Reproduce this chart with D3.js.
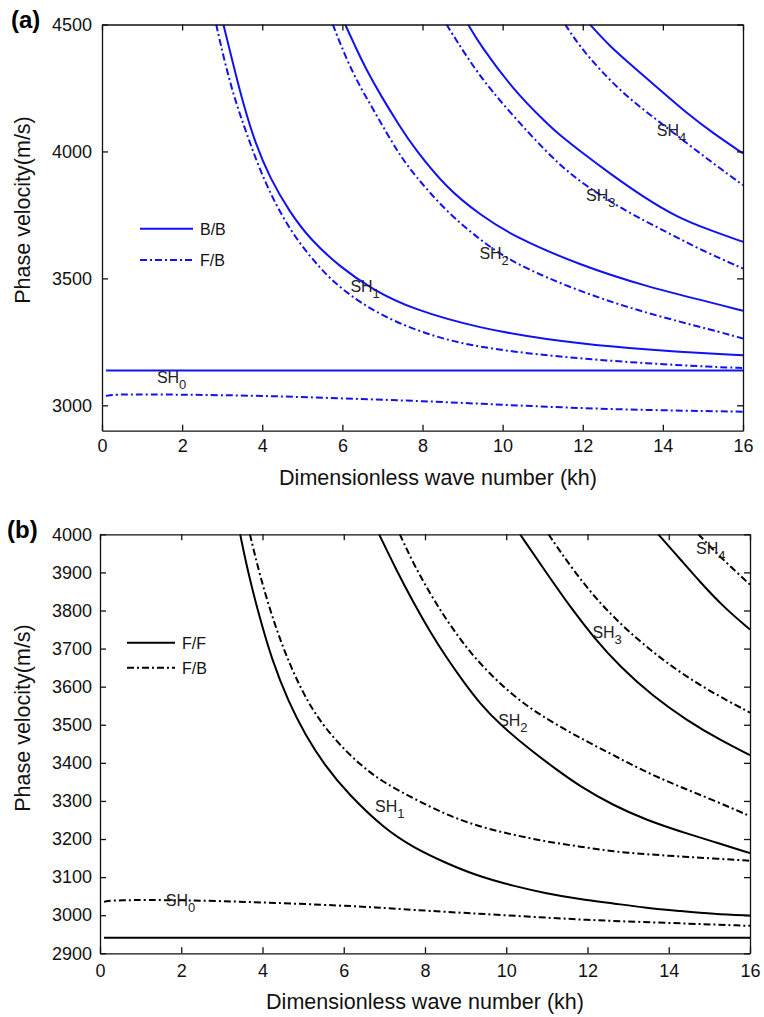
<!DOCTYPE html>
<html lang="en">
<head>
    <meta charset="UTF-8">
    <title>SH dispersion curves</title>
    <script src="https://d3js.org/d3.v7.min.js"></script>
    <style>
        body { margin: 0; background: #fff; }
        svg { display: block; font-family: "Liberation Sans", Arial, sans-serif; }
        .axis text { font-size: 18px; fill: #111; }
        .axis path, .axis line { stroke: #111; stroke-width: 1.3px; }
        .title { font-size: 21.5px; fill: #111; }
        .mode { font-size: 16px; fill: #222; }
        .legend { font-size: 16px; fill: #111; }
        .curve { fill: none; stroke-width: 2px; }
    </style>
</head>
<body>
    <svg width="764" height="1017"></svg>
    <script>
        // panel (a): blue, B/B solid and F/B dash-dot, [kh, velocity]
        const aBB0 = [[0.1, 3137], [16, 3137]];
        const aFB0 = [[0.1, 3037], [0.35, 3044], [2, 3042], [4, 3038], [6, 3027], [8, 3017], [10, 3002], [12, 2988], [14, 2980], [16, 2975]];
        const aBB1 = [[3.03, 4500], [3.28, 4340], [3.53, 4185], [3.82, 4035], [4.19, 3895], [4.69, 3760], [5.19, 3655], [5.94, 3545], [6.76, 3455], [7.77, 3377], [9.44, 3303], [11.1, 3259], [12.76, 3230], [14.43, 3210], [16, 3197]];
        const aFB1 = [[2.85, 4500], [3.07, 4347], [3.32, 4202], [3.61, 4071], [3.94, 3926], [4.36, 3782], [4.86, 3651], [5.44, 3540], [5.94, 3462], [6.94, 3350], [8.6, 3250], [10.27, 3210], [11.93, 3184], [13.6, 3165], [15.26, 3151], [16, 3147]];
        const aBB2 = [[6.07, 4500], [6.36, 4400], [6.6, 4322], [6.94, 4225], [7.44, 4097], [7.77, 4018], [8.6, 3855], [9.44, 3750], [10.27, 3665], [11.93, 3552], [13.6, 3467], [15.26, 3403], [16, 3372]];
        const aFB2 = [[5.76, 4500], [6.11, 4360], [6.44, 4255], [6.78, 4163], [7.11, 4071], [7.44, 3985], [7.77, 3912], [8.6, 3762], [9.44, 3651], [10.27, 3559], [11.93, 3447], [13.6, 3362], [15.26, 3296], [16, 3263]];
        const aBB3 = [[9.14, 4500], [9.44, 4419], [10.27, 4242], [11.1, 4111], [11.43, 4064], [12.01, 3992], [12.68, 3913], [13.51, 3821], [14.34, 3742], [15.17, 3690], [16, 3644]];
        const aFB3 = [[8.6, 4500], [9.1, 4373], [9.69, 4242], [10.69, 4065], [11.43, 3945], [12.1, 3861], [13.1, 3762], [14.1, 3682], [15.0, 3608], [16, 3539]];
        const aBB4 = [[12.18, 4500], [12.68, 4413], [13.26, 4334], [13.93, 4242], [14.6, 4150], [15.26, 4071], [16, 3992]];
        const aFB4 = [[11.56, 4500], [11.93, 4413], [12.43, 4321], [13.1, 4215], [13.85, 4124], [14.6, 4032], [15.26, 3953], [16, 3867]];

        // panel (b): black, F/F solid and F/B dash-dot
        const bFF0 = [[0.1, 2941], [16, 2941]];
        const bFB0 = [[0.1, 3035], [0.3, 3040], [2, 3040], [4, 3034], [6, 3025], [6.89, 3020], [7.96, 3012], [10, 3000], [11.98, 2987], [13.95, 2980], [16, 2972]];
        const bFF1 = [[3.45, 4000], [3.65, 3897], [3.9, 3793], [4.23, 3670], [4.64, 3560], [5.05, 3474], [5.54, 3392], [6.11, 3318], [7.02, 3225], [7.71, 3178], [8.53, 3136], [9.35, 3101], [10.17, 3077], [10.99, 3057], [11.82, 3042], [12.64, 3031], [13.45, 3019], [14.28, 3011], [15.1, 3003], [16, 2999]];
        const bFB1 = [[3.69, 4000], [3.94, 3889], [4.31, 3758], [4.72, 3644], [5.21, 3539], [5.78, 3460], [6.36, 3399], [6.93, 3351], [7.71, 3307], [8.53, 3263], [9.35, 3232], [10.17, 3211], [10.99, 3193], [11.82, 3180], [12.64, 3167], [13.45, 3160], [14.28, 3154], [15.1, 3149], [16, 3143]];
        const bFF2 = [[6.87, 4000], [7.3, 3905], [7.71, 3822], [8.12, 3745], [8.53, 3676], [8.94, 3614], [9.35, 3556], [9.85, 3500], [10.58, 3435], [11.24, 3382], [11.82, 3338], [12.64, 3288], [13.45, 3250], [14.28, 3220], [15.1, 3193], [16, 3163]];
        const bFB2 = [[7.38, 4000], [7.71, 3924], [8.12, 3845], [8.53, 3775], [8.94, 3714], [9.35, 3660], [10.17, 3574], [10.99, 3515], [11.82, 3465], [12.64, 3420], [13.45, 3375], [14.28, 3337], [15.1, 3302], [16, 3260]];
        const bFF3 = [[10.34, 4000], [11.0, 3897], [11.57, 3810], [12.14, 3731], [12.8, 3652], [13.62, 3574], [14.44, 3512], [15.26, 3460], [16, 3420]];
        const bFB3 = [[11.04, 4000], [11.65, 3905], [12.31, 3818], [13.05, 3740], [13.95, 3661], [14.93, 3592], [16, 3532]];
        const bFF4 = [[13.74, 4000], [14.28, 3935], [14.77, 3875], [15.34, 3810], [16, 3750]];
        const bFB4 = [[14.73, 4000], [15.26, 3941], [16, 3868]];

        const xTicks = [0, 2, 4, 6, 8, 10, 12, 14, 16];
        const aYTicks = [3000, 3500, 4000, 4500];
        const bYTicks = [2900, 3000, 3100, 3200, 3300, 3400, 3500, 3600, 3700, 3800, 3900, 4000];

        const aLabels = [["SH", "0", 1.37, 3087], ["SH", "1", 6.2, 3445], ["SH", "2", 9.42, 3577], ["SH", "3", 12.08, 3805], ["SH", "4", 13.85, 4062]];
        const bLabels = [["SH", "0", 1.62, 3024], ["SH", "1", 6.77, 3272], ["SH", "2", 9.8, 3497], ["SH", "3", 12.12, 3728], ["SH", "4", 14.67, 3949]];

        const svg = d3.select("svg");
        const dashDot = "7,3,2,3";

        function panel(opt) {
            const x = d3.scaleLinear().domain([0, 16]).range([opt.left, opt.right]);
            const y = d3.scaleLinear().domain(opt.yDomain).range([opt.bottom, opt.top]);
            const g = svg.append("g");

            g.append("clipPath").attr("id", opt.id)
                .append("rect")
                .attr("x", opt.left).attr("y", opt.top)
                .attr("width", opt.right - opt.left).attr("height", opt.bottom - opt.top);

            const line = d3.line()
                .x(d => x(d[0]))
                .y(d => y(d[1]))
                .curve(d3.curveBasis);

            const curves = g.append("g").attr("clip-path", `url(#${opt.id})`);
            opt.series.forEach(s => {
                curves.append("path")
                    .attr("class", "curve")
                    .attr("d", line(s.data))
                    .attr("stroke", opt.color)
                    .attr("stroke-dasharray", s.dashed ? dashDot : null);
            });

            // axes, ticks pointing inward
            const fmt = d3.format("d");
            g.append("g").attr("class", "axis")
                .attr("transform", `translate(0,${opt.bottom})`)
                .call(d3.axisBottom(x).tickValues(xTicks).tickFormat(fmt).tickSize(-6).tickSizeOuter(0).tickPadding(opt.xPad));
            g.append("g").attr("class", "axis")
                .attr("transform", `translate(0,${opt.top})`)
                .call(d3.axisTop(x).tickValues(xTicks).tickSize(-6).tickSizeOuter(0).tickFormat(""));
            g.append("g").attr("class", "axis")
                .attr("transform", `translate(${opt.left},0)`)
                .call(d3.axisLeft(y).tickValues(opt.yTicks).tickFormat(fmt).tickSize(-6).tickSizeOuter(0).tickPadding(opt.yPad));
            g.append("g").attr("class", "axis")
                .attr("transform", `translate(${opt.right},0)`)
                .call(d3.axisRight(y).tickValues(opt.yTicks).tickSize(-6).tickSizeOuter(0).tickFormat(""));
            g.selectAll(".axis text").attr("font-family", null).attr("font-size", null);

            // mode labels
            opt.labels.forEach(l => {
                const t = g.append("text").attr("class", "mode")
                    .attr("x", x(l[2])).attr("y", y(l[3]));
                t.append("tspan").text(l[0]);
                t.append("tspan").attr("dy", 6).attr("font-size", 13).text(l[1]);
            });

            // legend
            opt.legend.forEach((l, i) => {
                const ly = opt.legendY[i];
                g.append("line")
                    .attr("x1", opt.legendX[0]).attr("x2", opt.legendX[1])
                    .attr("y1", ly).attr("y2", ly)
                    .attr("stroke", opt.color).attr("stroke-width", 2)
                    .attr("stroke-dasharray", l.dashed ? dashDot : null);
                g.append("text").attr("class", "legend")
                    .attr("x", opt.legendX[1] + 7).attr("y", ly + 6)
                    .text(l.name);
            });

            g.append("text").attr("class", "title")
                .attr("x", opt.xTitle[0]).attr("y", opt.xTitle[1])
                .attr("text-anchor", "middle")
                .text("Dimensionless wave number (kh)");
            g.append("text").attr("class", "title")
                .attr("transform", `translate(${opt.yTitle[0]},${opt.yTitle[1]}) rotate(-90)`)
                .attr("text-anchor", "middle")
                .text("Phase velocity(m/s)");
            g.append("text")
                .attr("x", opt.tag[0]).attr("y", opt.tag[1])
                .attr("font-size", 24).attr("font-weight", "bold")
                .text(opt.tagText);
        }

        panel({
            id: "clipA", left: 102, right: 743, top: 24.5, bottom: 430.7,
            yDomain: [2900, 4500], yTicks: aYTicks, color: "#1212f0",
            xPad: 9, yPad: 10,
            series: [
                { data: aBB0 }, { data: aFB0, dashed: true },
                { data: aBB1 }, { data: aFB1, dashed: true },
                { data: aBB2 }, { data: aFB2, dashed: true },
                { data: aBB3 }, { data: aFB3, dashed: true },
                { data: aBB4 }, { data: aFB4, dashed: true }
            ],
            labels: aLabels,
            legend: [{ name: "B/B" }, { name: "F/B", dashed: true }],
            legendX: [140, 193], legendY: [228.7, 260],
            xTitle: [438, 485], yTitle: [30, 210],
            tag: [11, 28], tagText: "(a)"
        });

        panel({
            id: "clipB", left: 100, right: 750, top: 534.3, bottom: 953.3,
            yDomain: [2900, 4000], yTicks: bYTicks, color: "#000",
            xPad: 11, yPad: 8,
            series: [
                { data: bFF0 }, { data: bFB0, dashed: true },
                { data: bFF1 }, { data: bFB1, dashed: true },
                { data: bFF2 }, { data: bFB2, dashed: true },
                { data: bFF3 }, { data: bFB3, dashed: true },
                { data: bFF4 }, { data: bFB4, dashed: true }
            ],
            labels: bLabels,
            legend: [{ name: "F/F" }, { name: "F/B", dashed: true }],
            legendX: [127, 175], legendY: [642.7, 667.7],
            xTitle: [425, 1009], yTitle: [30, 718],
            tag: [7, 538], tagText: "(b)"
        });
    </script>
</body>
</html>
